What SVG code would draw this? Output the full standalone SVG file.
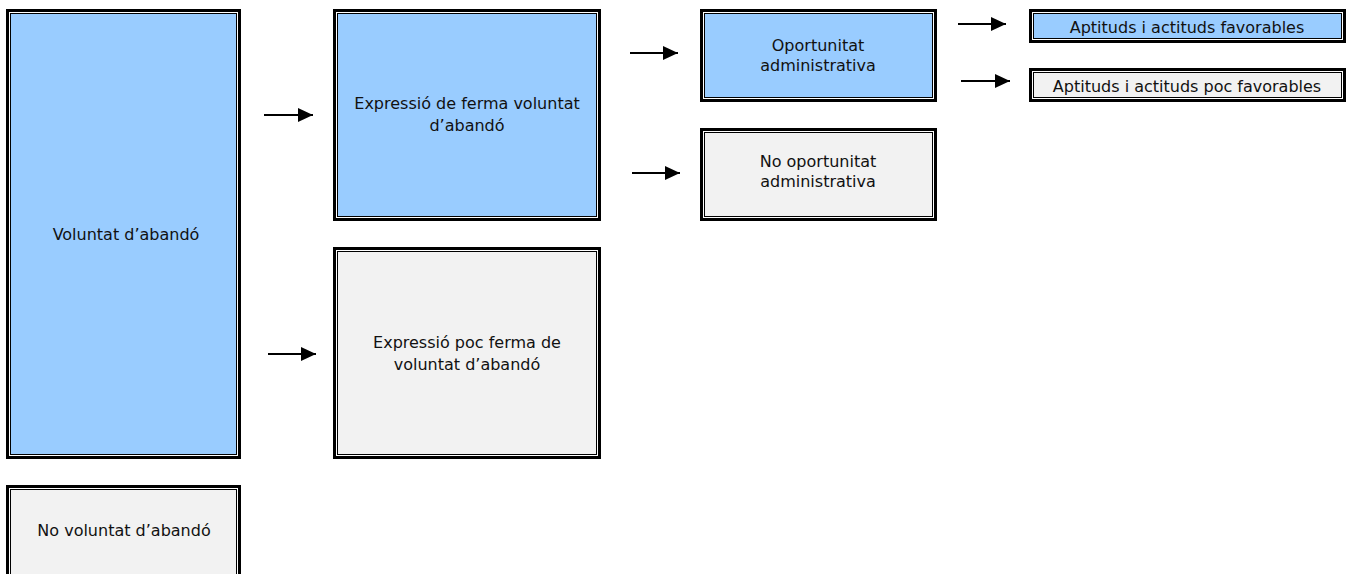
<svg xmlns="http://www.w3.org/2000/svg" width="1351" height="574" viewBox="0 0 1351 574">
<style>
  .outer{fill:#fff;stroke:#000;stroke-width:3}
  .inner-b{fill:#99CCFF;stroke:#000;stroke-width:1}
  .inner-g{fill:#F2F2F2;stroke:#000;stroke-width:1}
  text{font-family:"DejaVu Sans","Liberation Sans",sans-serif;font-size:16px;fill:#111;text-anchor:middle}
  .conn line{stroke:#000;stroke-width:2}
</style>
<defs>
  <marker id="ah" markerUnits="userSpaceOnUse" markerWidth="15" markerHeight="14" refX="15" refY="7" orient="auto">
    <path d="M0,0 L15,7 L0,14 z" fill="#000"/>
  </marker>
</defs>
<rect width="1351" height="574" fill="#fff"/>

<g id="n1">
  <rect class="outer" x="7.5" y="10.5" width="232" height="447"/>
  <rect class="inner-b" x="10.5" y="13.5" width="226" height="441"/>
  <text x="126" y="240">Voluntat d’abandó</text>
</g>
<g id="n2">
  <rect class="outer" x="334.5" y="10.5" width="265" height="209"/>
  <rect class="inner-b" x="337.5" y="13.5" width="259" height="203"/>
  <text x="467" y="109">Expressió de ferma voluntat</text>
  <text x="467" y="131">d’abandó</text>
</g>
<g id="n3">
  <rect class="outer" x="334.5" y="248.5" width="265" height="209"/>
  <rect class="inner-g" x="337.5" y="251.5" width="259" height="203"/>
  <text x="467" y="348">Expressió poc ferma de</text>
  <text x="467" y="370">voluntat d’abandó</text>
</g>
<g id="n4">
  <rect class="outer" x="701.5" y="10.5" width="234" height="90"/>
  <rect class="inner-b" x="704.5" y="13.5" width="228" height="84"/>
  <text x="818" y="51">Oportunitat</text>
  <text x="818" y="71">administrativa</text>
</g>
<g id="n5">
  <rect class="outer" x="701.5" y="129.5" width="234" height="90"/>
  <rect class="inner-g" x="704.5" y="132.5" width="228" height="84"/>
  <text x="818" y="167">No oportunitat</text>
  <text x="818" y="187">administrativa</text>
</g>
<g id="n6">
  <rect class="outer" x="1030.5" y="10.5" width="314" height="31"/>
  <rect class="inner-b" x="1033.5" y="13.5" width="308" height="25"/>
  <text x="1187" y="33">Aptituds i actituds favorables</text>
</g>
<g id="n7">
  <rect class="outer" x="1030.5" y="69.5" width="314" height="31"/>
  <rect class="inner-g" x="1033.5" y="72.5" width="308" height="25"/>
  <text x="1187" y="92">Aptituds i actituds poc favorables</text>
</g>
<g id="n8">
  <rect class="outer" x="7.5" y="486.5" width="232" height="110"/>
  <rect class="inner-g" x="10.5" y="489.5" width="226" height="104"/>
  <text x="124" y="536">No voluntat d’abandó</text>
</g>

<g class="conn" id="connectors">
  <line x1="264" y1="115" x2="313" y2="115" marker-end="url(#ah)"/>
  <line x1="268" y1="354" x2="316" y2="354" marker-end="url(#ah)"/>
  <line x1="630" y1="53" x2="678" y2="53" marker-end="url(#ah)"/>
  <line x1="632" y1="173" x2="680" y2="173" marker-end="url(#ah)"/>
  <line x1="958" y1="24" x2="1006" y2="24" marker-end="url(#ah)"/>
  <line x1="961" y1="81" x2="1010" y2="81" marker-end="url(#ah)"/>
</g>
</svg>
